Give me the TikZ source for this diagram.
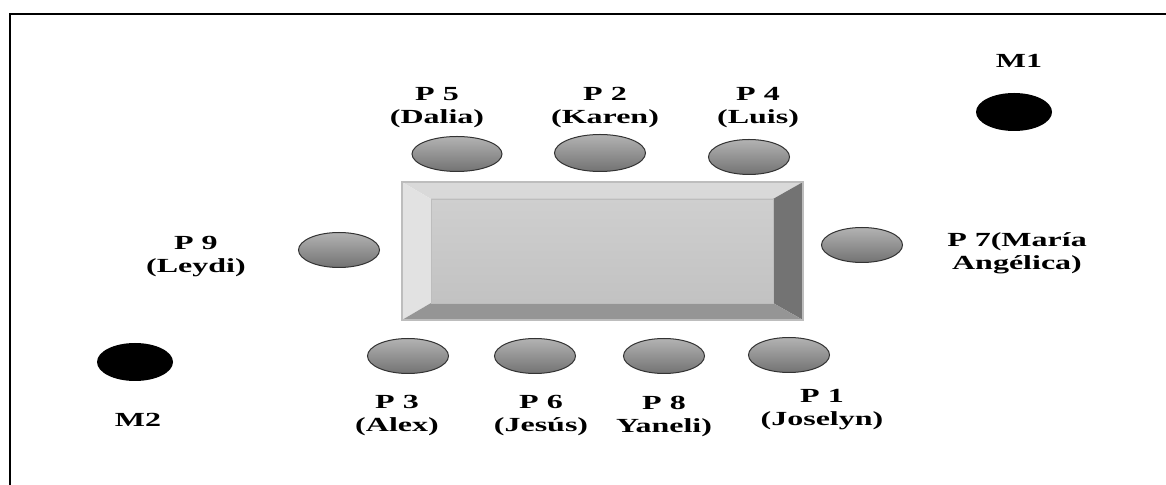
\documentclass[tikz,border=0pt]{standalone}
\usepackage{fontspec}
\newfontfamily\seatfont{Liberation Serif}[FakeStretch=1.6]
\usetikzlibrary{shapes.geometric}

\definecolor{bevtop}{HTML}{D9D9D9}
\definecolor{bevleft}{HTML}{E2E2E2}
\definecolor{bevright}{HTML}{737373}
\definecolor{bevbottom}{HTML}{959595}
\definecolor{facetop}{HTML}{CFCFCF}
\definecolor{facebottom}{HTML}{C2C2C2}
\definecolor{rim}{HTML}{BDBDBD}

\begin{document}
\begin{tikzpicture}
  [x=0.5pt,y=-0.5pt,
   every node/.style={font=\seatfont\bfseries\fontsize{10}{11.5}\selectfont,align=center,inner sep=0pt},
   seat/.style={ellipse,draw=black!80,line width=0.5pt,top color=black!30,bottom color=black!55,
     minimum width=40.5pt,minimum height=17.5pt},
   mic/.style={ellipse,fill=black,minimum width=38pt,minimum height=19pt}]
  \useasboundingbox (0,0) rectangle (1166,485);
  % frame
  \draw[line width=0.7pt] (10,485) -- (10,14) -- (1166,14);

  % table
  \fill[bevtop] (402,182) -- (803,182) -- (773,199) -- (431,199) -- cycle;
  \fill[bevleft] (402,182) -- (431,199) -- (431,303) -- (402,320) -- cycle;
  \fill[bevright] (803,182) -- (803,320) -- (773,303) -- (773,199) -- cycle;
  \fill[bevbottom] (402,320) -- (803,320) -- (773,303) -- (431,303) -- cycle;
  \shade[top color=facetop,bottom color=facebottom] (431,199) rectangle (773,303);
  \draw[rim,line width=0.4pt] (431,199) rectangle (773,303);
  \draw[rim,line width=0.6pt] (402,182) rectangle (803,320);

  % seats
  \node[seat,minimum width=45pt] (p5) at (457,154) {};
  \node[seat,minimum width=45.5pt,minimum height=18.5pt] (p2) at (600,153) {};
  \foreach \n/\x/\y in {4/749/157,9/339/250,7/862/245,3/408/356,6/535/356,8/664/356,1/789/355}
    \node[seat] (p\n) at (\x,\y) {};
  \node[mic] (m1) at (1014,112) {};
  \node[mic] (m2) at (135,362) {};

  % labels
  \node (l5) at (437,108) {P 5\\(Dalia)};
  \node (l2) at (605,108) {P 2\\(Karen)};
  \node (l4) at (758,108) {P 4\\(Luis)};
  \node (l9) at (196,257) {P 9\\(Leydi)};
  \node (l7) at (1017,253) {P 7(María\\Angélica)};
  \node (l3) at (397,416) {P 3\\(Alex)};
  \node (l6) at (541,416) {P 6\\(Jesús)};
  \node (l8) at (664,416) {P 8\\Yaneli)};
  \node (l1) at (822,410) {P 1\\(Joselyn)};
  \node (lm1) at (1019,61) {M1};
  \node (lm2) at (138,420) {M2};

\end{tikzpicture}
\end{document}
